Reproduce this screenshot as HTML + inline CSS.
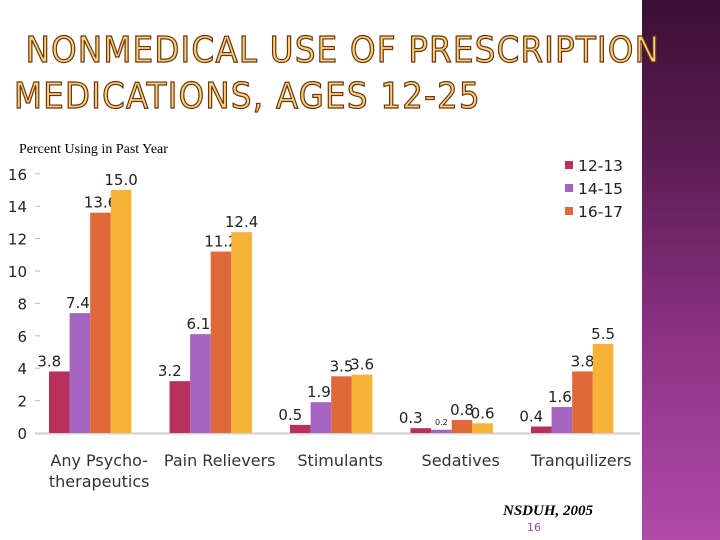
<!DOCTYPE html>
<html><head><meta charset="utf-8"><style>
body{margin:0;width:720px;height:540px;overflow:hidden;background:#fff;position:relative;font-family:"DejaVu Sans","Liberation Sans",sans-serif}
#strip{position:absolute;left:642px;top:0;width:78px;height:540px;background:linear-gradient(#3c0f34,#5e1d55 30%,#8e3488 65%,#b04aa8)}
#title{position:absolute;left:14px;top:28px;font-family:"DejaVu Sans Condensed","DejaVu Sans",sans-serif;font-size:36px;line-height:46px;color:#fcd27a;-webkit-text-stroke:1.2px #6a3510;letter-spacing:1.3px;white-space:nowrap}
#sub{position:absolute;left:19px;top:142px;font-family:"Liberation Serif",serif;font-size:14px}
#src{position:absolute;left:503px;top:503px;font-family:"Liberation Serif",serif;font-size:15px;font-weight:bold;font-style:italic}
#pg{position:absolute;left:527px;top:521px;font-size:11px;color:#8a4a9a}
svg{position:absolute;left:0;top:0}
</style></head><body>
<div id="strip"></div>
<div id="title">&nbsp;NONMEDICAL USE OF PRESCRIPTION<br>MEDICATIONS, AGES 12-25</div>
<div id="sub">Percent Using in Past Year</div>
<div id="src">NSDUH, 2005</div>
<div id="pg">16</div>
<svg id="chart" width="720" height="540"></svg>
<script>
const categories=["Any Psycho-|therapeutics","Pain Relievers","Stimulants","Sedatives","Tranquilizers"];
const seriesNames=["12-13","14-15","16-17"];
const s1213=[3.8,3.2,0.5,0.3,0.4];
const s1415=[7.4,6.1,1.9,0.2,1.6];
const s1617=[13.6,11.2,3.5,0.8,3.8];
const s1617b=[15.0,12.4,3.6,0.6,5.5];
const yTicks=[0,2,4,6,8,10,12,14,16];
const colors=["#b8305c","#a464c0","#e0693a","#f7b238"];
const NS="http://www.w3.org/2000/svg",svg=document.getElementById('chart');
const y=v=>433-v*16.2, gx=i=>49+i*120.5, bw=20.6;
function mk(t,a,txt){const e=document.createElementNS(NS,t);for(const k in a)e.setAttribute(k,a[k]);if(txt!=null)e.textContent=txt;svg.appendChild(e);return e;}
const ax=mk('line',{x1:35,x2:640,y1:433.5,y2:433.5,stroke:'#d0d0d0','stroke-width':2});


yTicks.forEach(t=>{
 const l=mk('text',{x:27,y:y(t)+6,'text-anchor':'end','font-size':15,fill:'#222'},t);
 
 
 if(t>0){const d=mk('line',{x1:35,x2:40,y1:y(t),y2:y(t),stroke:'#bbb'});
 
 }
});
const all=[s1213,s1415,s1617,s1617b];
categories.forEach((c,i)=>{
 all.forEach((s,j)=>{
  const v=s[i],x=gx(i)+j*bw;
  const r=mk('rect',{x:x,y:y(v),width:bw,height:433-y(v),fill:colors[j]});
  
  
  const fs=(i==3&&j==1)?8:15;
  const lbl=mk('text',{x:x+bw/2-(j==0?10:0)+(j==1&&i!=3?-2:0),y:y(v)-5,'text-anchor':'middle','font-size':fs,fill:'#222'},v.toFixed(1));
  
  
 });
 const parts=c.split('|');
 parts.forEach((p,k)=>{
  const t=mk('text',{x:gx(i)+2*bw+9,y:466+k*21,'text-anchor':'middle','font-size':16,fill:'#333'},p);
  
  
 });
});
seriesNames.forEach((n,j)=>{
 const r=mk('rect',{x:565,y:161+j*23,width:8,height:8,fill:colors[j]});
 
 
 const t=mk('text',{x:578,y:171+j*23,'font-size':15.5,fill:'#222'},n);
 
 
});
</script>
</body></html>
